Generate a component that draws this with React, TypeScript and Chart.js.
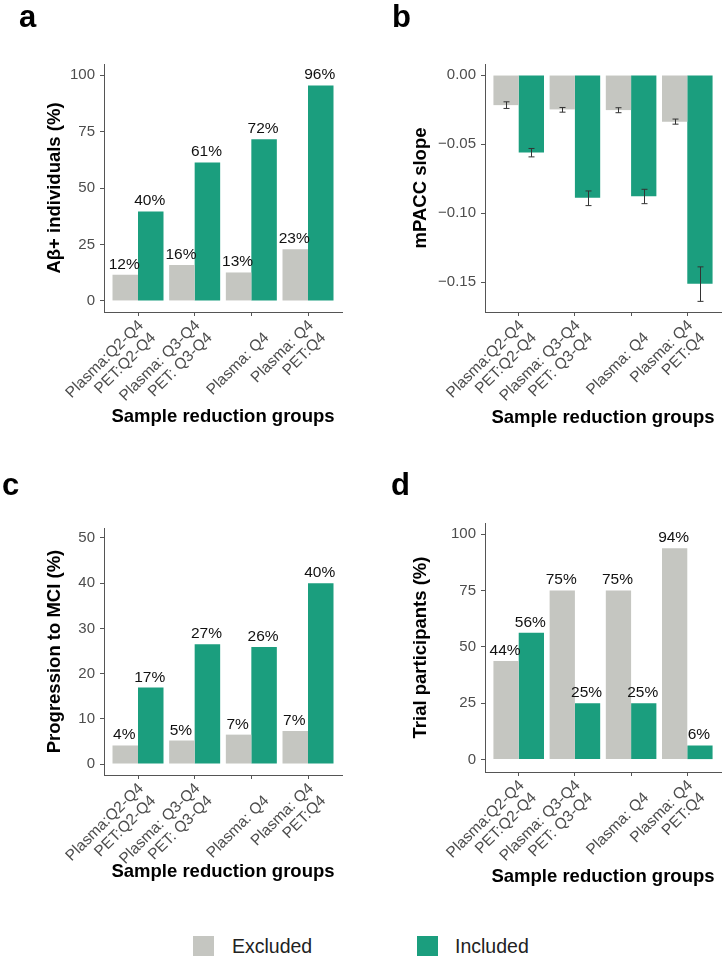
import React, { useEffect, useRef } from 'react';
import { Chart, registerables } from 'chart.js';

Chart.register(...registerables);

// ---------------- data ----------------
const groupLabels: string[][] = [
  ['Plasma:Q2-Q4', 'PET:Q2-Q4'],
  ['Plasma: Q3-Q4', 'PET: Q3-Q4'],
  ['', 'Plasma: Q4'],
  ['Plasma: Q4', 'PET:Q4'],
];
const seriesNames = ['Excluded', 'Included'];

// a: Aβ+ individuals
const abExcluded = [11.6, 15.9, 12.6, 22.9];
const abIncluded = [39.6, 61.3, 71.6, 95.4];
const abExcludedText = ['12%', '16%', '13%', '23%'];
const abIncludedText = ['40%', '61%', '72%', '96%'];
const abTicks = [0, 25, 50, 75, 100];

// b: mPACC slope
const slopeExcluded = [-0.0218, -0.0249, -0.0254, -0.0339];
const slopeIncluded = [-0.0561, -0.089, -0.0878, -0.1512];
const slopeExcludedLow = [-0.0242, -0.0269, -0.0273, -0.0356];
const slopeExcludedHigh = [-0.0194, -0.0235, -0.0237, -0.0319];
const slopeIncludedLow = [-0.0593, -0.0946, -0.0932, -0.164];
const slopeIncludedHigh = [-0.0532, -0.084, -0.0828, -0.139];
const slopeTicks = [0, -0.05, -0.1, -0.15];

// c: progression to MCI
const mciExcluded = [4.1, 5.2, 6.5, 7.3];
const mciIncluded = [16.9, 26.5, 25.9, 40.0];
const mciExcludedText = ['4%', '5%', '7%', '7%'];
const mciIncludedText = ['17%', '27%', '26%', '40%'];
const mciTicks = [0, 10, 20, 30, 40, 50];

// d: trial participants
const trialExcluded = [43.75, 75, 75, 93.75];
const trialIncluded = [56.25, 25, 25, 6.25];
const trialExcludedText = ['44%', '75%', '75%', '94%'];
const trialIncludedText = ['56%', '25%', '25%', '6%'];
const trialTicks = [0, 25, 50, 75, 100];

// ---------------- style ----------------
const FONT = "'Liberation Sans', Arial, Helvetica, sans-serif";
const GRAY = '#c5c6c1';
const GREEN = '#1b9e7e';
const AXIS = '#555555';
const TICK_TEXT = '#4d4d4d';
const TITLE_SIZE = 18.5;
const TITLE_LH = TITLE_SIZE * 1.2;

type PanelProps = {
  left: number; top: number; w: number; h: number;
  area: { l: number; t: number; r: number; b: number };
  letter: string; letterX: number; letterY: number;
  yTitle: string; yTitleX: number; xTitleY: number;
  yMin: number; yMax: number; yTicks: number[];
  yFmt: (v: number) => string;
  excluded: number[]; included: number[];
  texts?: string[][];
  errLow?: number[][]; errHigh?: number[][];
};

function Panel(p: PanelProps) {
  const ref = useRef<HTMLCanvasElement>(null);
  useEffect(() => {
    const canvas = ref.current!;
    const deco = {
      id: 'deco',
      afterDatasetsDraw(chart: any) {
        const ctx = chart.ctx;
        const yScale = chart.scales.y;
        ctx.save();
        if (p.errLow && p.errHigh) {
          ctx.strokeStyle = '#333333';
          ctx.lineWidth = 1;
          for (let d = 0; d < 2; d++) {
            const meta = chart.getDatasetMeta(d);
            meta.data.forEach((el: any, i: number) => {
              const x = Math.round(el.x) + 0.5;
              const y1 = yScale.getPixelForValue(p.errLow![d][i]);
              const y2 = yScale.getPixelForValue(p.errHigh![d][i]);
              ctx.beginPath();
              ctx.moveTo(x, y1); ctx.lineTo(x, y2);
              ctx.moveTo(x - 3, y1); ctx.lineTo(x + 3, y1);
              ctx.moveTo(x - 3, y2); ctx.lineTo(x + 3, y2);
              ctx.stroke();
            });
          }
        }
        if (p.texts) {
          ctx.font = `15.5px ${FONT}`;
          ctx.fillStyle = '#111111';
          ctx.textAlign = 'center';
          ctx.textBaseline = 'alphabetic';
          for (let d = 0; d < 2; d++) {
            const meta = chart.getDatasetMeta(d);
            meta.data.forEach((el: any, i: number) => {
              ctx.fillText(p.texts![d][i], el.x - 1, el.y - 6);
            });
          }
        }
        ctx.restore();
      },
      afterDraw(chart: any) {
        const ctx = chart.ctx;
        ctx.save();
        ctx.font = `bold 31px ${FONT}`;
        ctx.fillStyle = '#000';
        ctx.textAlign = 'left';
        ctx.textBaseline = 'alphabetic';
        ctx.fillText(p.letter, p.letterX, p.letterY);
        ctx.restore();
      },
    };

    const chart = new Chart(canvas, {
      type: 'bar',
      data: {
        datasets: [
          {
            label: seriesNames[0],
            data: p.excluded.map((y, i) => ({ x: i, y })),
            backgroundColor: GRAY,
            borderWidth: 0,
            categoryPercentage: 0.9,
            barPercentage: 1,
          },
          {
            label: seriesNames[1],
            data: p.included.map((y, i) => ({ x: i, y })),
            backgroundColor: GREEN,
            borderWidth: 0,
            categoryPercentage: 0.9,
            barPercentage: 1,
          },
        ],
      } as any,
      options: {
        responsive: false,
        animation: false,
        layout: { padding: { left: 0, top: p.area.t, right: p.w - p.area.r, bottom: 0 } },
        plugins: {
          legend: { display: false },
          tooltip: { enabled: false },
          title: { display: false },
        },
        scales: {
          x: {
            type: 'linear',
            min: -0.6,
            max: 3.6,
            offset: false,
            afterBuildTicks: (s: any) => { s.ticks = groupLabels.map((_, i) => ({ value: i })); },
            afterFit: (s: any) => { s.height = p.h - p.area.b; },
            ticks: {
              minRotation: 45,
              maxRotation: 45,
              autoSkip: false,
              padding: 1,
              labelOffset: 3,
              color: TICK_TEXT,
              font: { family: FONT, size: 15.5, lineHeight: 1.12 },
              callback: (v: any) => groupLabels[Math.round(Number(v))] as any,
            },
            grid: { drawOnChartArea: false, drawTicks: true, tickLength: 4, color: AXIS, lineWidth: 1, offset: false },
            border: { display: true, color: AXIS, width: 1 },
            title: {
              display: true,
              text: 'Sample reduction groups',
              color: '#000',
              font: { family: FONT, size: TITLE_SIZE, weight: 'bold', lineHeight: 1.2 },
              padding: { top: 0, bottom: p.h - p.xTitleY - TITLE_LH / 2 },
            },
          },
          y: {
            type: 'linear',
            min: p.yMin,
            max: p.yMax,
            afterBuildTicks: (s: any) => { s.ticks = p.yTicks.map((v) => ({ value: v })); },
            afterFit: (s: any) => { s.width = p.area.l; },
            ticks: {
              padding: 5,
              color: TICK_TEXT,
              font: { family: FONT, size: 15 },
              callback: (v: any) => p.yFmt(Number(v)),
            },
            grid: { drawOnChartArea: false, drawTicks: true, tickLength: 4, color: AXIS, lineWidth: 1 },
            border: { display: true, color: AXIS, width: 1 },
            title: {
              display: true,
              text: p.yTitle,
              color: '#000',
              font: { family: FONT, size: TITLE_SIZE, weight: 'bold', lineHeight: 1.2 },
              padding: { top: p.yTitleX - TITLE_LH / 2, bottom: 0 },
            },
          },
        },
      } as any,
      plugins: [deco],
    });
    return () => chart.destroy();
  }, []);

  return (
    <canvas
      ref={ref}
      width={p.w}
      height={p.h}
      style={{ position: 'absolute', left: p.left, top: p.top, width: p.w, height: p.h }}
    />
  );
}

const intFmt = (v: number) => String(Math.round(v));
const slopeFmt = (v: number) => (Math.abs(v) < 1e-9 ? '0.00' : (v < 0 ? '\u2212' : '') + Math.abs(v).toFixed(2));

export default function App() {
  useEffect(() => {
    document.body.style.margin = '0';
  }, []);

  return (
    <div style={{ position: 'relative', width: 726, height: 960, background: '#fff', overflow: 'hidden' }}>
      <Panel
        left={0} top={0} w={363} h={460}
        area={{ l: 104, t: 64, r: 342, b: 312 }}
        letter="a" letterX={19} letterY={27}
        yTitle="Aβ+ individuals (%)" yTitleX={55} xTitleY={417}
        yMin={-4.9} yMax={104.9} yTicks={abTicks} yFmt={intFmt}
        excluded={abExcluded} included={abIncluded}
        texts={[abExcludedText, abIncludedText]}
      />
      <Panel
        left={363} top={0} w={363} h={460}
        area={{ l: 122, t: 64, r: 358, b: 312 }}
        letter="b" letterX={29} letterY={27}
        yTitle="mPACC slope" yTitleX={58} xTitleY={418}
        yMin={-0.1717} yMax={0.008} yTicks={slopeTicks} yFmt={slopeFmt}
        excluded={slopeExcluded} included={slopeIncluded}
        errLow={[slopeExcludedLow, slopeIncludedLow]}
        errHigh={[slopeExcludedHigh, slopeIncludedHigh]}
      />
      <Panel
        left={0} top={460} w={363} h={440}
        area={{ l: 104, t: 68, r: 342, b: 315 }}
        letter="c" letterX={2} letterY={35}
        yTitle="Progression to MCI (%)" yTitleX={55} xTitleY={412}
        yMin={-2.43} yMax={52.2} yTicks={mciTicks} yFmt={intFmt}
        excluded={mciExcluded} included={mciIncluded}
        texts={[mciExcludedText, mciIncludedText]}
      />
      <Panel
        left={363} top={460} w={363} h={440}
        area={{ l: 122, t: 63, r: 358, b: 312 }}
        letter="d" letterX={28} letterY={35}
        yTitle="Trial participants (%)" yTitleX={58} xTitleY={417}
        yMin={-5.5} yMax={104.9} yTicks={trialTicks} yFmt={intFmt}
        excluded={trialExcluded} included={trialIncluded}
        texts={[trialExcludedText, trialIncludedText]}
      />
      {/* legend */}
      <div style={{ position: 'absolute', left: 193, top: 936, width: 21, height: 20, background: GRAY }} />
      <div style={{ position: 'absolute', left: 232, top: 935, height: 22, lineHeight: '22px', fontFamily: FONT, fontSize: 19.5, color: '#222' }}>
        {seriesNames[0]}
      </div>
      <div style={{ position: 'absolute', left: 417, top: 936, width: 21, height: 20, background: GREEN }} />
      <div style={{ position: 'absolute', left: 455, top: 935, height: 22, lineHeight: '22px', fontFamily: FONT, fontSize: 19.5, color: '#222' }}>
        {seriesNames[1]}
      </div>
    </div>
  );
}
